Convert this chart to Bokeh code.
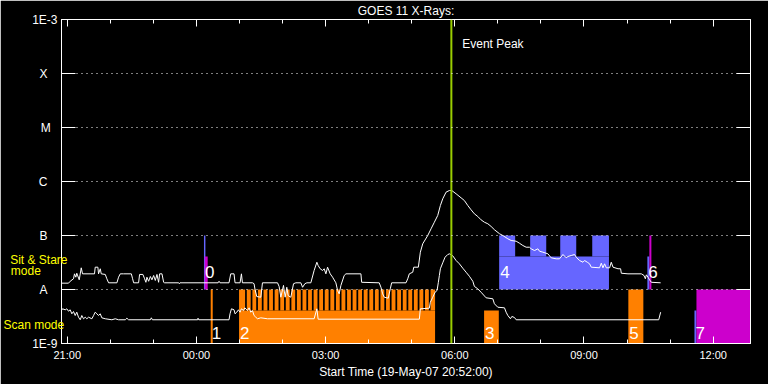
import numpy as np
from bokeh.plotting import figure
from bokeh.models import (ColumnDataSource, FixedTicker, LinearAxis, LogAxis, Label, Span,
                          CustomJSTickFormatter, Grid)
from bokeh.core.properties import value
from bokeh.embed import file_html
from bokeh.resources import INLINE

# ---------------- data ----------------
title_text = "GOES 11 X-Rays:"
x_axis_title = "Start Time (19-May-07 20:52:00)"
# time axis: minutes after 19-May-07 20:52:00
x_start, x_end = 0, 960
x_major_ticks = [8, 188, 368, 548, 728, 908]
x_major_labels = ["21:00", "00:00", "03:00", "06:00", "09:00", "12:00"]
x_minor_ticks = [68, 128, 248, 308, 428, 488, 608, 668, 788, 848]
flux_levels = [1e-9, 1e-8, 1e-7, 1e-6, 1e-5, 1e-4, 1e-3]
flux_labels = ["1E-9", "A", "B", "C", "M", "X", "1E-3"]
grid_levels = [1e-8, 1e-7, 1e-6, 1e-5, 1e-4]
mode_labels = ["Sit & Stare", "mode", "Scan mode"]
event_peak_time = 543.2
event_peak_text = "Event Peak"

# GOES long channel (1-8 A), (minutes, W/m^2)
long_channel = [
    (0, 1.31e-8), (9.8, 1.31e-8), (12.1, 1.42e-8), (16.7, 1.58e-8), (18.1, 1.95e-8),
    (20.0, 1.69e-8), (21.3, 2.00e-8), (24.7, 1.51e-8), (27.5, 2.52e-8), (29.3, 1.95e-8),
    (46.0, 1.95e-8), (47.0, 2.59e-8), (50.7, 2.59e-8), (51.6, 1.95e-8), (54.0, 2.42e-8),
    (55.4, 1.95e-8), (61.0, 1.90e-8), (63.2, 1.58e-8), (65.6, 1.33e-8), (77.2, 1.33e-8),
    (79.5, 1.69e-8), (81.9, 1.95e-8), (86.5, 1.95e-8), (97.3, 1.95e-8), (99.1, 1.58e-8),
    (100.5, 1.33e-8), (107.4, 1.33e-8), (108.8, 1.90e-8), (113.4, 1.90e-8), (115.8, 1.58e-8),
    (117.6, 1.36e-8), (119.0, 1.69e-8), (121.4, 1.42e-8), (123.8, 1.74e-8), (126.0, 1.51e-8),
    (128.4, 1.82e-8), (130.7, 1.47e-8), (133.0, 1.90e-8), (135.3, 1.36e-8), (136.7, 1.95e-8),
    (140.0, 1.95e-8), (142.3, 1.36e-8), (143.7, 1.33e-8), (163.3, 1.33e-8), (164.2, 1.28e-8),
    (165.1, 1.33e-8), (218.2, 1.33e-8), (219.5, 1.42e-8), (220.9, 1.33e-8), (233.4, 1.33e-8),
    (235.8, 1.95e-8), (240.4, 1.95e-8), (241.8, 1.33e-8), (248.8, 1.33e-8), (250.7, 1.95e-8),
    (252.1, 1.33e-8), (266.1, 1.33e-8), (268.3, 1.28e-8), (269.7, 9.9e-9), (272.1, 7.4e-9),
    (277.7, 7.2e-9), (280.0, 1.33e-8), (301.0, 1.33e-8), (303.2, 1.14e-8), (305.6, 7.2e-9),
    (309.3, 1.19e-8), (311.6, 7.2e-9), (313.9, 1.10e-8), (315.8, 7.7e-9), (319.5, 7.2e-9),
    (323.3, 1.28e-8), (326.5, 1.33e-8), (333.5, 1.33e-8), (335.9, 1.10e-8), (339.1, 1.28e-8),
    (341.9, 1.33e-8), (347.4, 1.33e-8), (352.0, 2.25e-8), (355.8, 3.20e-8), (357.6, 2.78e-8),
    (360.4, 2.42e-8), (363.8, 2.25e-8), (366.0, 2.42e-8), (368.4, 1.95e-8), (370.7, 2.59e-8),
    (374.4, 1.95e-8), (377.7, 1.69e-8), (382.3, 1.33e-8), (384.7, 9.6e-9), (386.9, 8.3e-9),
    (389.3, 1.19e-8), (393.9, 1.82e-8), (396.3, 1.95e-8), (417.2, 1.95e-8), (418.2, 1.36e-8),
    (442.7, 1.33e-8), (445.1, 1.10e-8), (447.5, 8.3e-9), (449.7, 7.2e-9), (455.3, 6.9e-9),
    (458.1, 1.03e-8), (460.0, 1.33e-8), (480.0, 1.33e-8), (482.4, 1.58e-8), (484.6, 1.95e-8),
    (489.4, 2.09e-8), (490.8, 2.59e-8), (497.2, 2.59e-8), (500.0, 4.91e-8), (503.3, 7.02e-8),
    (510.3, 1.00e-7), (514.9, 1.33e-7), (519.5, 1.76e-7), (524.2, 2.35e-7), (527.9, 3.59e-7),
    (531.2, 4.78e-7), (535.8, 6.34e-7), (540.4, 6.81e-7), (543.8, 6.81e-7), (549.8, 5.92e-7),
    (556.7, 4.99e-7), (561.3, 4.45e-7), (566.1, 3.59e-7), (570.7, 2.99e-7), (575.3, 2.52e-7),
    (580.0, 2.25e-7), (584.6, 1.95e-7), (589.3, 1.76e-7), (594.0, 1.65e-7), (598.6, 1.47e-7),
    (603.2, 1.28e-7), (610.2, 1.08e-7), (614.9, 1.00e-7), (621.9, 8.69e-8), (626.5, 8.08e-8),
    (633.5, 7.84e-8), (638.1, 7.20e-8), (642.8, 6.53e-8), (647.4, 6.07e-8), (652.0, 6.07e-8),
    (654.4, 5.67e-8), (659.0, 5.27e-8), (663.8, 5.67e-8), (666.0, 5.12e-8), (670.7, 4.91e-8),
    (677.7, 4.58e-8), (682.3, 3.86e-8), (689.3, 3.70e-8), (693.9, 3.70e-8), (698.7, 4.45e-8),
    (703.3, 3.86e-8), (705.6, 4.08e-8), (710.2, 4.26e-8), (714.8, 4.45e-8), (717.2, 3.96e-8),
    (721.8, 3.44e-8), (726.6, 3.20e-8), (728.8, 3.44e-8), (732.6, 3.20e-8), (735.8, 2.99e-8),
    (738.1, 2.59e-8), (749.7, 2.52e-8), (752.1, 3.07e-8), (754.4, 2.52e-8), (756.7, 2.99e-8),
    (759.1, 2.52e-8), (763.7, 2.52e-8), (766.0, 3.20e-8), (768.4, 2.59e-8), (775.4, 2.42e-8),
    (779.0, 2.42e-8), (780.0, 2.00e-8), (789.3, 1.95e-8), (807.9, 1.95e-8), (811.6, 1.82e-8),
    (813.5, 1.58e-8), (814.9, 1.87e-8), (817.2, 1.69e-8), (819.4, 1.51e-8), (821.8, 1.36e-8),
    (834.8, 1.33e-8),
]

# GOES short channel (0.5-4 A), (minutes, W/m^2)
short_channel = [
    (0, 4.08e-9), (1.4, 4.39e-9), (5.2, 4.21e-9), (7.4, 4.39e-9), (9.8, 3.96e-9),
    (12.1, 4.21e-9), (14.4, 3.55e-9), (16.7, 3.91e-9), (19.1, 3.30e-9), (21.3, 3.80e-9),
    (23.7, 3.07e-9), (26.1, 2.75e-9), (28.3, 3.30e-9), (30.7, 2.87e-9), (33.1, 3.07e-9),
    (35.3, 2.87e-9), (37.7, 3.07e-9), (42.3, 2.87e-9), (44.7, 3.30e-9), (47.0, 3.80e-9),
    (49.3, 3.55e-9), (51.6, 3.30e-9), (54.0, 3.55e-9), (56.2, 2.99e-9), (61.0, 2.87e-9),
    (70.2, 2.75e-9), (74.9, 2.87e-9), (79.5, 2.75e-9), (88.9, 2.75e-9), (91.1, 2.94e-9),
    (93.5, 2.75e-9), (123.8, 2.75e-9), (125.2, 2.99e-9), (126.6, 2.75e-9), (189.8, 2.75e-9),
    (190.2, 2.94e-9), (191.2, 2.75e-9), (233.4, 2.75e-9), (234.8, 3.55e-9), (236.8, 4.39e-9),
    (240.4, 4.21e-9), (241.8, 3.55e-9), (244.2, 3.80e-9), (246.6, 4.21e-9), (248.8, 3.80e-9),
    (250.7, 4.39e-9), (253.5, 4.08e-9), (255.4, 4.58e-9), (259.1, 4.08e-9), (261.4, 4.58e-9),
    (263.7, 3.80e-9), (266.1, 4.08e-9), (268.3, 3.30e-9), (270.7, 3.07e-9), (273.1, 2.87e-9),
    (277.7, 2.99e-9), (287.0, 2.87e-9), (352.0, 2.87e-9), (355.8, 4.39e-9), (357.6, 2.82e-9),
    (498.6, 2.82e-9), (500.0, 4.39e-9), (512.5, 4.51e-9), (513.9, 5.82e-9), (517.3, 7.2e-9),
    (520.5, 8.91e-9), (523.3, 9.6e-9), (525.1, 1.36e-8), (526.5, 1.82e-8), (527.9, 2.42e-8),
    (531.2, 3.12e-8), (534.4, 3.96e-8), (538.2, 4.45e-8), (541.0, 4.58e-8), (545.2, 4.20e-8),
    (549.8, 3.44e-8), (554.4, 2.99e-8), (559.1, 2.48e-8), (563.7, 2.09e-8), (568.3, 1.76e-8),
    (573.1, 1.42e-8), (575.3, 1.14e-8), (580.0, 1.03e-8), (584.6, 8.91e-9), (591.6, 7.02e-9),
    (601.0, 6.73e-9), (603.2, 5.44e-9), (607.9, 4.70e-9), (617.2, 4.58e-9), (619.5, 3.80e-9),
    (621.9, 3.30e-9), (625.5, 2.87e-9), (627.5, 3.17e-9), (631.1, 3.03e-9), (633.5, 2.75e-9),
    (832.1, 2.75e-9), (834.8, 3.80e-9),
]

# observing-mode bars: row "scan" spans 1E-9..A, row "ss" (sit & stare) spans A..B
scan_lo, scan_mid, scan_hi = 1e-9, 4.1e-9, 1e-8
ss_lo, ss_mid, ss_hi = 1e-8, 4.1e-8, 1e-7
mode_colors = {"scan": "#ff8000", "ss_blue": "#6666ff", "ss_mag": "#cc00cc"}

# (start min, end min, bottom, top, kind)
obs_blocks = [
    (198.5, 200.5, ss_lo, ss_hi, "ss_blue"),
    (199.5, 203.7, ss_lo, ss_mid, "ss_mag"),
    (207.9, 210.7, scan_lo, scan_hi, "scan"),
    (247.4, 520.5, scan_lo, scan_mid, "scan"),
    (588.8, 609.3, scan_lo, scan_mid, "scan"),
    (609.8, 762.8, ss_lo, ss_mid, "ss_blue"),
    (789.8, 810.7, scan_lo, scan_hi, "scan"),
    (816.3, 819.1, ss_lo, ss_mid, "ss_blue"),
    (819.1, 821.9, ss_lo, ss_hi, "ss_mag"),
    (881.9, 884.7, scan_lo, scan_mid, "ss_blue"),
    (884.7, 960.0, scan_lo, scan_hi, "ss_mag"),
]
# short full-height scan exposures inside block 2
scan_teeth_start = [247.4, 258.2, 266.0, 273.7, 281.5, 289.3, 297.0, 304.8, 312.5, 320.3,
                    328.0, 335.8, 343.6, 351.3, 359.1, 366.8, 374.6, 382.4, 390.1, 397.9,
                    405.6, 413.4, 421.1, 428.9, 436.7, 444.4, 452.2, 459.9, 467.7, 475.5,
                    483.2, 491.0, 498.7, 506.5, 514.2]
scan_teeth_end = [255.8, 263.6, 271.3, 279.1, 286.9, 294.6, 302.4, 310.1, 317.9, 325.6,
                  333.4, 341.2, 348.9, 356.7, 364.4, 372.2, 380.0, 387.7, 395.5, 403.2,
                  411.0, 418.7, 426.5, 434.3, 442.0, 449.8, 457.5, 465.3, 473.1, 480.8,
                  488.6, 496.3, 504.1, 511.8, 520.5]
# full-height sit & stare periods inside block 4
ss_teeth_start = [609.8, 653.0, 694.9, 739.5]
ss_teeth_end = [632.1, 675.4, 717.2, 762.8]

group_ids = ["0", "1", "2", "3", "4", "5", "6", "7"]
group_start = [198.5, 207.9, 247.4, 588.8, 609.8, 789.8, 816.3, 881.9]
group_row = ["ss", "scan", "scan", "scan", "ss", "scan", "ss", "scan"]

# ---------------- layout ----------------
W, H = 768, 384
FL, FT, FR, FB = 61, 19, 750, 343      # frame edges in page pixels
FONT = "Liberation Sans"
NB = "\u00a0"


def xm(px):
    return x_start + (px - FL) * (x_end - x_start) / (FR - FL)


def yf(py):
    return 10 ** (-9 + (FB - py) * 6.0 / (FB - FT))


p = figure(width=W, height=H, x_range=(x_start, x_end), y_range=(1e-9, 1e-3),
           y_axis_type="log", x_axis_location=None, y_axis_location=None,
           output_backend="svg", toolbar_location=None,
           background_fill_color="black", border_fill_color="black",
           outline_line_color="white",
           min_border_left=FL, min_border_top=FT,
           min_border_right=W - FR, min_border_bottom=H - FB)
p.xgrid.visible = False
p.ygrid.visible = False

blank = CustomJSTickFormatter(code="return ''")


def style(ax):
    ax.axis_line_color = "white"
    ax.major_tick_line_color = "white"
    ax.minor_tick_line_color = "white"
    ax.major_tick_out = 0
    ax.minor_tick_out = 0
    ax.major_label_text_color = "white"
    ax.major_label_text_font = FONT
    ax.axis_label_text_color = "white"
    ax.axis_label_text_font = FONT
    ax.axis_label_text_font_style = "normal"
    ax.axis_label_text_font_size = "12px"


xt = FixedTicker(ticks=x_major_ticks, minor_ticks=x_minor_ticks)
bottom = LinearAxis(ticker=xt, major_label_overrides=dict(zip(x_major_ticks, x_major_labels)),
                    major_tick_in=7, minor_tick_in=4, major_label_standoff=5,
                    major_label_text_font_size="11px",
                    axis_label=x_axis_title, axis_label_standoff=1)
top = LinearAxis(ticker=xt, formatter=blank, major_tick_in=7, minor_tick_in=4,
                 major_label_standoff=0, major_label_text_font_size="1px",
                 axis_label=title_text, axis_label_standoff=2)

# flux-class labels, padded so they sit centred in their column
pad = {"1E-9": 0, "1E-3": 0, "M": 2}
flux_text = [t + NB * pad.get(t, 3) for t in flux_labels]
yt = FixedTicker(ticks=flux_levels, minor_ticks=[])
left = LogAxis(ticker=yt, major_label_overrides=dict(zip(flux_levels, flux_text)),
               major_tick_in=14, major_label_standoff=4, major_label_text_font_size="12px")
right = LogAxis(ticker=yt, formatter=blank, major_tick_in=14, major_label_standoff=0,
                major_label_text_font_size="1px")
for ax in (bottom, top, left, right):
    style(ax)
left.minor_tick_line_color = None
right.minor_tick_line_color = None

# observing-mode row captions (outer left axis, overlapping the class column)
mode_ticks = [yf(259.1), yf(270.8), yf(324.1)]
mode_text = [mode_labels[0], mode_labels[1] + NB * 8, mode_labels[2] + NB]
modes_axis = LogAxis(ticker=FixedTicker(ticks=mode_ticks, minor_ticks=[]),
                     major_label_overrides=dict(zip(mode_ticks, mode_text)),
                     axis_line_color=None, major_tick_line_color=None,
                     minor_tick_line_color=None, major_tick_out=0, major_tick_in=0,
                     major_label_standoff=-38, major_label_text_color="yellow",
                     major_label_text_font=FONT, major_label_text_font_size="12px")

p.add_layout(bottom, "below")
p.add_layout(top, "above")
p.add_layout(left, "left")
p.add_layout(modes_axis, "left")
p.add_layout(right, "right")

# bars
bl, br, bb, bt, bc = [], [], [], [], []
for s, e, lo, hi, kind in obs_blocks:
    bl.append(s); br.append(e); bb.append(lo); bt.append(hi); bc.append(mode_colors[kind])
for s, e in zip(scan_teeth_start, scan_teeth_end):
    bl.append(s); br.append(e); bb.append(scan_mid); bt.append(scan_hi); bc.append(mode_colors["scan"])
for s, e in zip(ss_teeth_start, ss_teeth_end):
    bl.append(s); br.append(e); bb.append(ss_mid); bt.append(ss_hi); bc.append(mode_colors["ss_blue"])
p.quad(left=bl, right=br, bottom=bb, top=bt, fill_color=bc, line_color=None)

# dotted class grid drawn over the bars
g = Grid(dimension=1, ticker=FixedTicker(ticks=grid_levels), grid_line_color="white",
         grid_line_dash="1 4", grid_line_width=1, level="overlay")
p.add_layout(g)

# curves
lt, lf = zip(*long_channel)
st, sf = zip(*short_channel)
p.line(list(lt), list(lf), line_color="white", line_width=1)
p.line(list(st), list(sf), line_color="white", line_width=1)

# group numbers
dx = xm(FL + 1.0) - xm(FL)
gsrc = ColumnDataSource(dict(
    x=[s + dx for s in group_start],
    y=[yf(271.2) if r == "ss" else yf(332.7) for r in group_row],
    t=group_ids))
p.text(x="x", y="y", text="t", source=gsrc,
       text_color="white", text_font=value(FONT), text_font_size="17px",
       text_baseline="middle", text_align="left")

# event peak
p.add_layout(Span(location=event_peak_time, dimension="height", line_color="#99cc00",
                  line_width=2))
p.add_layout(Label(x=xm(461.7), y=yf(43.0), text=event_peak_text, text_color="white",
                   text_font=FONT, text_font_size="12px", text_align="left",
                   text_baseline="middle"))

open("out.html", "w").write(file_html(p, INLINE))
